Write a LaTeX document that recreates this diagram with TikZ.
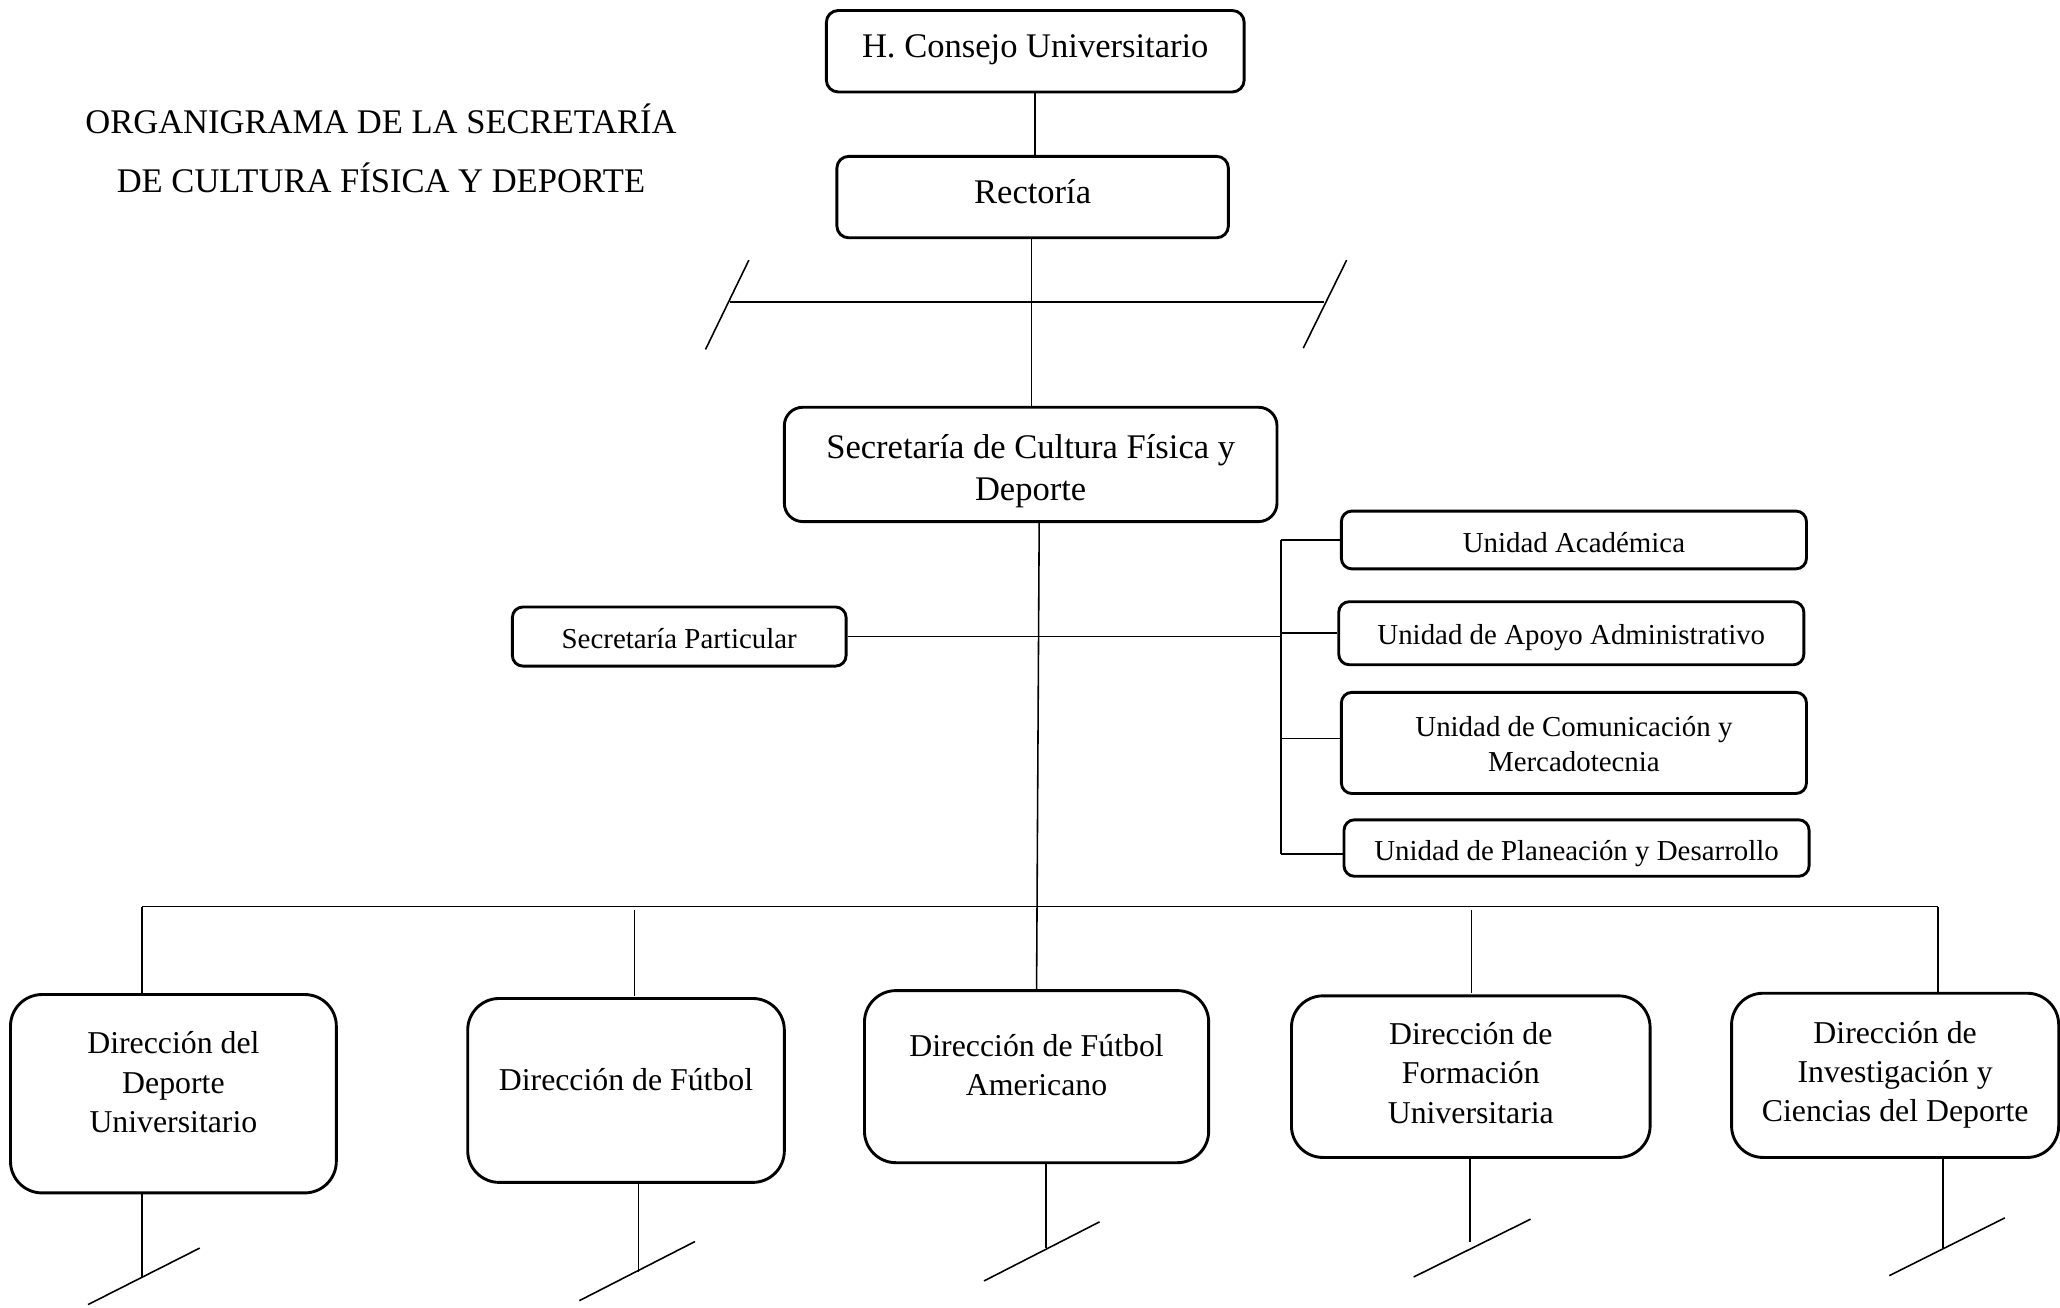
\documentclass[tikz,border=0pt]{standalone}
\usepackage{fontspec}
\setmainfont{Liberation Serif}
\newcommand{\bigtxt}{\fontsize{13.15}{16}\selectfont}
\newcommand{\midtxt}{\fontsize{12.1}{15}\selectfont}
\newcommand{\smalltxt}{\fontsize{11}{13.5}\selectfont}
% centred lines whose first baseline sits #1 above the middle of the box
\newcommand{\boxlines}[2]{\raisebox{#1}[0pt][0pt]{\begin{tabular}[t]{@{}c@{}}#2\end{tabular}}}
\tikzset{
  unitbox/.style={draw, line width=1.1pt, inner sep=0pt, fill=white},
  topbox/.style={unitbox, rounded corners=4.5pt, font=\bigtxt},
  subbox/.style={unitbox, rounded corners=4pt, font=\smalltxt},
  dirbox/.style={unitbox, rounded corners=12pt, font=\midtxt},
  link/.style={line width=0.6pt},
  cut/.style={line width=0.6pt}
}
\begin{document}
\begin{tikzpicture}[x=0.5pt, y=-0.5pt]
\useasboundingbox[fill=white] (0,0) rectangle (1568,995);

% title
\node[align=center, font=\fontsize{13.15}{22.5}\selectfont] (title) at (290,113)
  {ORGANIGRAMA DE LA SECRETARÍA\\DE CULTURA FÍSICA Y DEPORTE};

% upper chain
\node[topbox, minimum width=159pt, minimum height=31pt] (consejo) at (788,39)
  {\boxlines{-2.35pt}{H. Consejo Universitario}};
\node[topbox, minimum width=149pt, minimum height=31pt] (rectoria) at (786,150)
  {\boxlines{-2.35pt}{Rectoría}};
\node[topbox, rounded corners=7pt, minimum width=187.5pt, minimum height=43.5pt] (secre) at (784.5,353.5)
  {\boxlines{2.4pt}{Secretaría de Cultura Física y\\Deporte}};

% staff units
\node[subbox, minimum width=127pt, minimum height=22.5pt] (part) at (517,484.5)
  {\boxlines{-4.4pt}{Secretaría Particular}};
\node[subbox, minimum width=177pt, minimum height=22pt] (ua) at (1198,411)
  {\boxlines{-4.65pt}{Unidad Académica}};
\node[subbox, minimum width=177pt, minimum height=24pt] (uaa) at (1196,482)
  {\boxlines{-4.15pt}{Unidad de Apoyo Administrativo}};
\node[subbox, minimum width=177pt, minimum height=38.5pt] (ucm) at (1198,565.5)
  {\boxlines{2.6pt}{Unidad de Comunicación y\\Mercadotecnia}};
\node[subbox, minimum width=177pt, minimum height=21.5pt] (upd) at (1200,645.5)
  {\boxlines{-4.9pt}{Unidad de Planeación y Desarrollo}};

% directorates
\node[dirbox, minimum width=124pt, minimum height=75.5pt] (d1) at (132,832.5)
  {\boxlines{15.25pt}{Dirección del\\Deporte\\Universitario}};
\node[dirbox, minimum width=120.5pt, minimum height=70pt] (d2) at (476.5,830)
  {\boxlines{0pt}{Dirección de Fútbol}};
\node[dirbox, minimum width=131pt, minimum height=65.5pt] (d3) at (789,819.5)
  {\boxlines{7.75pt}{Dirección de Fútbol\\Americano}};
\node[dirbox, minimum width=136.5pt, minimum height=61.5pt] (d4) at (1119.5,819.5)
  {\boxlines{12.25pt}{Dirección de\\Formación\\Universitaria}};
\node[dirbox, minimum width=124.5pt, minimum height=62.5pt] (d5) at (1442.5,818.5)
  {\boxlines{12.25pt}{Dirección de\\Investigación y\\Ciencias del Deporte}};

% upper links
\draw[link] (consejo.south) -- (consejo.south |- rectoria.north);
\coordinate (rdown) at (785,181);
\draw[link] (rdown) -- (rdown |- secre.north);

% crossbar with cut marks
\coordinate (barl) at (556,230);
\coordinate (barr) at (1008,230);
\draw[link] (barl) -- (barr);
\draw[cut] (570,198) -- (537,266);
\draw[cut] (1025,198) -- (992,265);

% main spine
\coordinate (spine) at (791,397);
\draw[link] (spine) -- (d3.north);

% staff bracket
\coordinate (brtop) at (975,411);
\coordinate (brbot) at (975,650);
\draw[link] (brtop) -- (brbot);
\draw[link] (part.east) -- (part.east -| brtop);
\draw[link] (brtop) -- (ua.west);
\draw[link] (uaa.west -| brtop) -- (uaa.west);
\draw[link] (975,562) -- (ucm.west |- 975,562);
\draw[link] (brbot) -- (upd.west |- brbot);

% directorate bar
\coordinate (bl) at (108,690);
\coordinate (br) at (1475,690);
\draw[link] (bl) -- (br);
\draw[link] (bl) -- (bl |- d1.north);
\draw[link] (483,693) -- (483,758);
\draw[link] (1120,693) -- (1120,756);
\draw[link] (br) -- (br |- d5.north);

% lower stubs with cut marks
\coordinate (s1) at (108,972);
\coordinate (s2) at (486,968);
\coordinate (s3) at (796,950);
\coordinate (s4) at (1119,945);
\coordinate (s5) at (1479,950);
\draw[link] (s1 |- d1.south) -- (s1);
\draw[link] (s2 |- d2.south) -- (s2);
\draw[link] (s3 |- d3.south) -- (s3);
\draw[link] (s4 |- d4.south) -- (s4);
\draw[link] (s5 |- d5.south) -- (s5);
\draw[cut] (152,950) -- (67,993);
\draw[cut] (529,945) -- (441,990);
\draw[cut] (837,930) -- (749,975);
\draw[cut] (1165,928) -- (1076,972);
\draw[cut] (1526,927) -- (1438,971);
\end{tikzpicture}
\end{document}
